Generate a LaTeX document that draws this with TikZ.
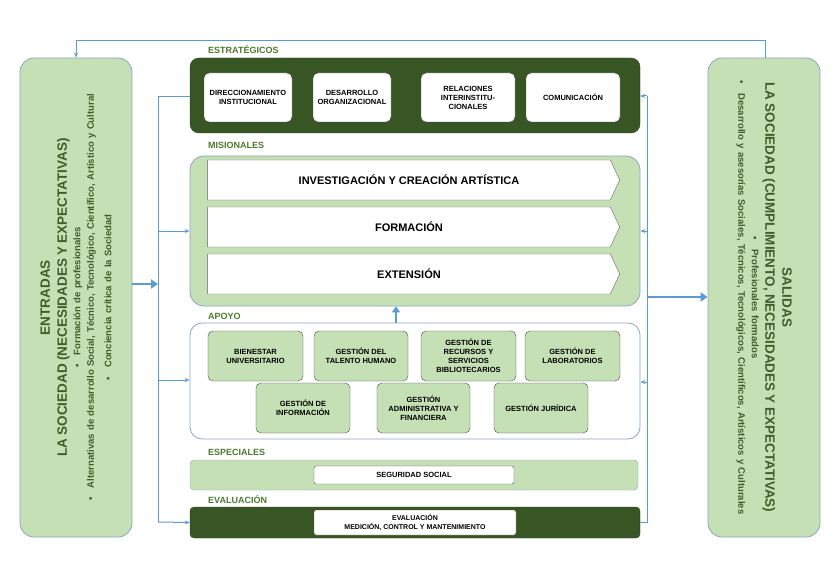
\documentclass[tikz,border=0pt]{standalone}
\usepackage{fontspec}
\setmainfont{Liberation Sans}
\usetikzlibrary{arrows.meta,shapes.symbols}
\definecolor{dg}{HTML}{375623}
\definecolor{lg}{HTML}{C5E0B4}
\definecolor{lbl}{HTML}{4E7A2E}
\definecolor{ln}{HTML}{5B9BD5}
\definecolor{bd}{HTML}{8AA9BF}
\definecolor{tx}{HTML}{3E5E2A}
\newcommand{\bigt}{\fontsize{13.5}{17}\selectfont}
\newcommand{\smt}{\fontsize{9.5}{13.5}\selectfont}
\tikzset{
 side/.style={draw=bd,fill=lg,rounded corners=14pt,line width=0.8pt},
 inw/.style={draw=black!70,fill=white,rounded corners=5pt,font=\bfseries\fontsize{7.5}{9}\selectfont,align=center,inner sep=1pt},
 ing/.style={draw=black!70,fill=lg,rounded corners=5pt,font=\bfseries\fontsize{7.5}{9}\selectfont,align=center,inner sep=1pt},
 lab/.style={anchor=west,text=lbl,font=\bfseries\fontsize{9}{10}\selectfont,inner sep=0},
 conn/.style={draw=ln,line width=1pt},
 ar/.style={conn,-{Stealth[length=5pt,width=4pt]}},
 bigar/.style={draw=ln,line width=2.5pt,-{Triangle[length=7pt,width=9pt]}},
 chev/.style={signal,signal to=east,signal pointer angle=130,draw=black!60,fill=white,font=\bfseries\fontsize{11}{13}\selectfont,inner sep=0}
}
\begin{document}
\begin{tikzpicture}[x=1pt,y=-1pt]
\useasboundingbox[fill=white] (0,0) rectangle (840,564);
% side boxes
\node[side,minimum width=112,minimum height=479] (ent) at (76,297.5) {};
\node[side,minimum width=112,minimum height=479] (sal) at (764,297.5) {};
\node[rotate=90,align=center,text=tx,text width=465,font=\bfseries] at (ent.center) {\bigt ENTRADAS\par
\bigt LA SOCIEDAD (NECESIDADES Y EXPECTATIVAS)\par
\smt \textbullet\quad Formación de profesionales\par
\smt \textbullet\quad Alternativas de desarrollo Social, Técnico, Tecnológico, Científico, Artístico y Cultural\par\vspace{4pt}
\smt \textbullet\quad Conciencia crítica de la Sociedad\par};
\node[rotate=-90,align=center,text=tx,text width=470,font=\bfseries] at (sal.center) {\bigt SALIDAS\par
\bigt LA SOCIEDAD (CUMPLIMIENTO, NECESIDADES Y EXPECTATIVAS)\par
\smt \textbullet\quad Profesionales formados\par
\smt \textbullet\quad Desarrollo y asesorías Sociales, Técnicos, Tecnológicos, Científicos, Artísticos y Culturales\par};
% estrategicos
\node[lab] at (208,50) {ESTRATÉGICOS};
\node[draw=dg!80!black,fill=dg,rounded corners=9pt,minimum width=450,minimum height=75] (est) at (415,95.5) {};
\node[inw,minimum width=88,minimum height=49] (e1) at (248,97.5) {DIRECCIONAMIENTO\\INSTITUCIONAL};
\node[inw,minimum width=78,minimum height=49] (e2) at (352,97.5) {DESARROLLO\\ORGANIZACIONAL};
\node[inw,minimum width=94,minimum height=49] (e3) at (468,97.5) {RELACIONES\\INTERINSTITU-\\CIONALES};
\node[inw,minimum width=94,minimum height=49] (e4) at (573,97.5) {COMUNICACIÓN};
% misionales
\node[lab] at (208,145) {MISIONALES};
\node[draw=bd,fill=lg,rounded corners=14pt,line width=0.8pt,minimum width=450,minimum height=150] (mis) at (415,231) {};
\node[chev,minimum width=412,minimum height=40] (m1) at (409,180) {INVESTIGACIÓN Y CREACIÓN ARTÍSTICA};
\node[chev,minimum width=412,minimum height=40] (m2) at (409,227) {FORMACIÓN};
\node[chev,minimum width=412,minimum height=40] (m3) at (409,274) {EXTENSIÓN};
% apoyo
\node[lab] at (208,316) {APOYO};
\node[draw=bd,fill=white,rounded corners=12pt,line width=0.8pt,minimum width=450,minimum height=116] (apo) at (415,381) {};
\node[ing,minimum width=95,minimum height=50] (a1) at (255.5,356) {BIENESTAR\\UNIVERSITARIO};
\node[ing,minimum width=94,minimum height=50] (a2) at (361,356) {GESTIÓN DEL\\TALENTO HUMANO};
\node[ing,minimum width=95,minimum height=50] (a3) at (468.5,356) {GESTIÓN DE\\RECURSOS Y\\SERVICIOS\\BIBLIOTECARIOS};
\node[ing,minimum width=95,minimum height=50] (a4) at (572.5,356) {GESTIÓN DE\\LABORATORIOS};
\node[ing,minimum width=94,minimum height=50] (a5) at (303,408) {GESTIÓN DE\\INFORMACIÓN};
\node[ing,minimum width=93,minimum height=50] (a6) at (423.5,408) {GESTIÓN\\ADMINISTRATIVA Y\\FINANCIERA};
\node[ing,minimum width=94,minimum height=50] (a7) at (541,408) {GESTIÓN JURÍDICA};
% especiales
\node[lab] at (208,452) {ESPECIALES};
\node[draw=bd,fill=lg,rounded corners=4pt,minimum width=448,minimum height=30] (esp) at (414,475) {};
\node[inw,rounded corners=2pt,minimum width=200,minimum height=18] (s1) at (414,475) {SEGURIDAD SOCIAL};
% evaluacion
\node[lab] at (208,500) {EVALUACIÓN};
\node[draw=dg!80!black,fill=dg,rounded corners=4pt,minimum width=450,minimum height=31] (eva) at (415,522.5) {};
\node[inw,rounded corners=2pt,minimum width=202,minimum height=25,font=\bfseries\fontsize{7}{8.5}\selectfont] (v1) at (415,522.5) {EVALUACIÓN\\MEDICIÓN, CONTROL Y MANTENIMIENTO};
% connectors
\coordinate (R) at (647,297);
\draw[conn] (est.west |- 0,97) -| (158,522);
\draw[ar] (158,231) -- (mis.west |- 0,231);
\draw[ar] (158,380) -- (apo.west |- 0,380);
\draw[ar] (158,522) -- (eva.west);
\draw[bigar] (ent.east |- 0,284) -- (158,284);
\draw[conn] (eva.east) -| (647,96);
\draw[ar] (647,96) -- (est.east |- 0,96);
\draw[ar] (647,231) -- (mis.east |- 0,231);
\draw[ar] (647,382) -- (apo.east |- 0,382);
\draw[bigar] (R) -- (sal.west |- R);
\draw[ar] (sal.north -| 765,0) |- (76,41) -- (ent.north);
\draw[draw=ln,line width=2pt,-{Triangle[length=6pt,width=8pt]}] (apo.north -| 396,0) -- (mis.south -| 396,0);
\end{tikzpicture}
\end{document}
